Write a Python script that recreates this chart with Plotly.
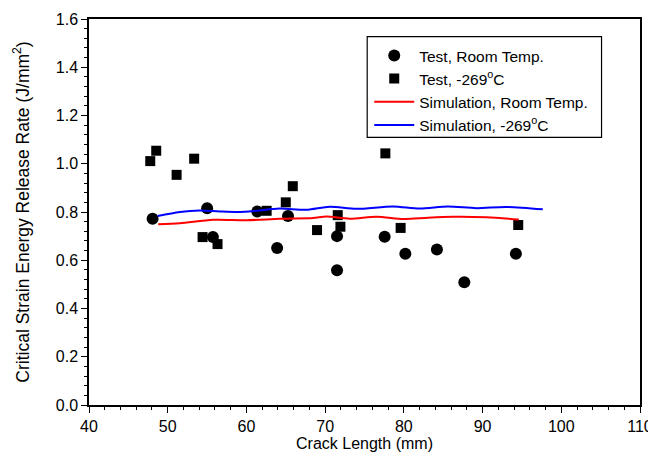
import plotly.graph_objects as go

# Test data, room temperature (circles)
rt_x = [48.08, 55.01, 55.74, 61.38, 63.90, 65.28, 71.51, 71.51, 77.56, 80.19, 84.20, 87.68, 94.23]
rt_y = [0.772, 0.816, 0.696, 0.802, 0.651, 0.783, 0.700, 0.559, 0.697, 0.627, 0.645, 0.509, 0.627]

# Test data, -269 C (squares)
ct_x = [47.78, 48.54, 51.13, 53.36, 54.43, 56.33, 62.57, 65.0, 65.89, 68.97, 71.60, 71.94, 77.65, 79.59, 94.53]
ct_y = [1.011, 1.054, 0.954, 1.021, 0.696, 0.667, 0.805, 0.840, 0.907, 0.725, 0.787, 0.739, 1.043, 0.734, 0.746]

# Simulation, room temperature (red)
sim_rt_x = [48.79, 51.55, 55.77, 60.01, 64.24, 68.46, 70.16, 73.12, 76.51, 79.89, 82.0, 86.2, 90.5, 94.6]
sim_rt_y = [0.749, 0.753, 0.768, 0.766, 0.772, 0.775, 0.781, 0.772, 0.780, 0.771, 0.774, 0.780, 0.778, 0.769]

# Simulation, -269 C (blue)
sim_ct_x = [48.72, 51.55, 54.09, 56.62, 59.16, 61.28, 64.24, 67.63, 70.58, 73.97, 78.62, 82.0, 85.6, 89.2, 93.0, 97.65]
sim_ct_y = [0.783, 0.800, 0.806, 0.802, 0.800, 0.805, 0.814, 0.809, 0.822, 0.813, 0.823, 0.814, 0.823, 0.816, 0.821, 0.811]

x_ticks = [40, 50, 60, 70, 80, 90, 100, 110]
y_ticks = [0.0, 0.2, 0.4, 0.6, 0.8, 1.0, 1.2, 1.4, 1.6]

FONT = "Liberation Sans, Arial, sans-serif"

fig = go.Figure()
fig.add_trace(go.Scatter(x=rt_x, y=rt_y, mode="markers", name="Test, Room Temp.",
                         marker=dict(symbol="circle", size=12, color="black")))
fig.add_trace(go.Scatter(x=ct_x, y=ct_y, mode="markers", name="Test, -269<sup>o</sup>C",
                         marker=dict(symbol="square", size=10, color="black")))
fig.add_trace(go.Scatter(x=sim_rt_x, y=sim_rt_y, mode="lines", name="Simulation, Room Temp.",
                         line=dict(color="#ff0000", width=2, shape="spline", smoothing=0.8)))
fig.add_trace(go.Scatter(x=sim_ct_x, y=sim_ct_y, mode="lines", name="Simulation, -269<sup>o</sup>C",
                         line=dict(color="#0000ff", width=2, shape="spline", smoothing=0.8)))

axis_common = dict(showline=True, linecolor="black", linewidth=1.5, mirror=True,
                   showgrid=False, zeroline=False, ticks="outside", ticklen=6,
                   tickwidth=1.2, tickcolor="black", automargin=False,
                   tickfont=dict(family=FONT, size=16, color="black"))

fig.update_xaxes(range=[40, 110], tickvals=x_ticks, ticktext=[str(v) for v in x_ticks],
                 minor=dict(dtick=2, ticks="outside", ticklen=3, tickcolor="black", tickwidth=1),
                 title=dict(text="Crack Length (mm)", font=dict(family=FONT, size=16, color="black"), standoff=4),
                 **axis_common)
fig.update_yaxes(range=[0, 1.6], tickvals=y_ticks, ticktext=[f"{v:.1f}" for v in y_ticks],
                 minor=dict(dtick=0.04, ticks="outside", ticklen=3, tickcolor="black", tickwidth=1),
                 title=dict(text="Critical Strain Energy Release Rate (J/mm<sup>2</sup>)",
                            font=dict(family=FONT, size=17.5, color="black"), standoff=22),
                 **axis_common)

# legend frame drawn as a rectangle (paper coords)
fig.add_shape(type="rect", xref="paper", yref="paper",
              x0=0.5049, x1=0.9302, y0=0.6933, y1=0.9541,
              line=dict(color="black", width=1.2), fillcolor="white", layer="above")

# page body has an 8px margin: the figure is sized and margined to compensate
fig.update_layout(
    width=648, height=451,
    margin=dict(l=81, r=16, t=11, b=54),
    paper_bgcolor="white", plot_bgcolor="white",
    font=dict(family=FONT, color="black"),
    showlegend=True,
    legend=dict(x=0.5086, y=0.9485, xanchor="left", yanchor="top",
                bgcolor="rgba(0,0,0,0)", borderwidth=0,
                font=dict(family=FONT, size=15.5, color="black"),
                tracegroupgap=0, itemwidth=40),
)

fig.write_html("out.html")
